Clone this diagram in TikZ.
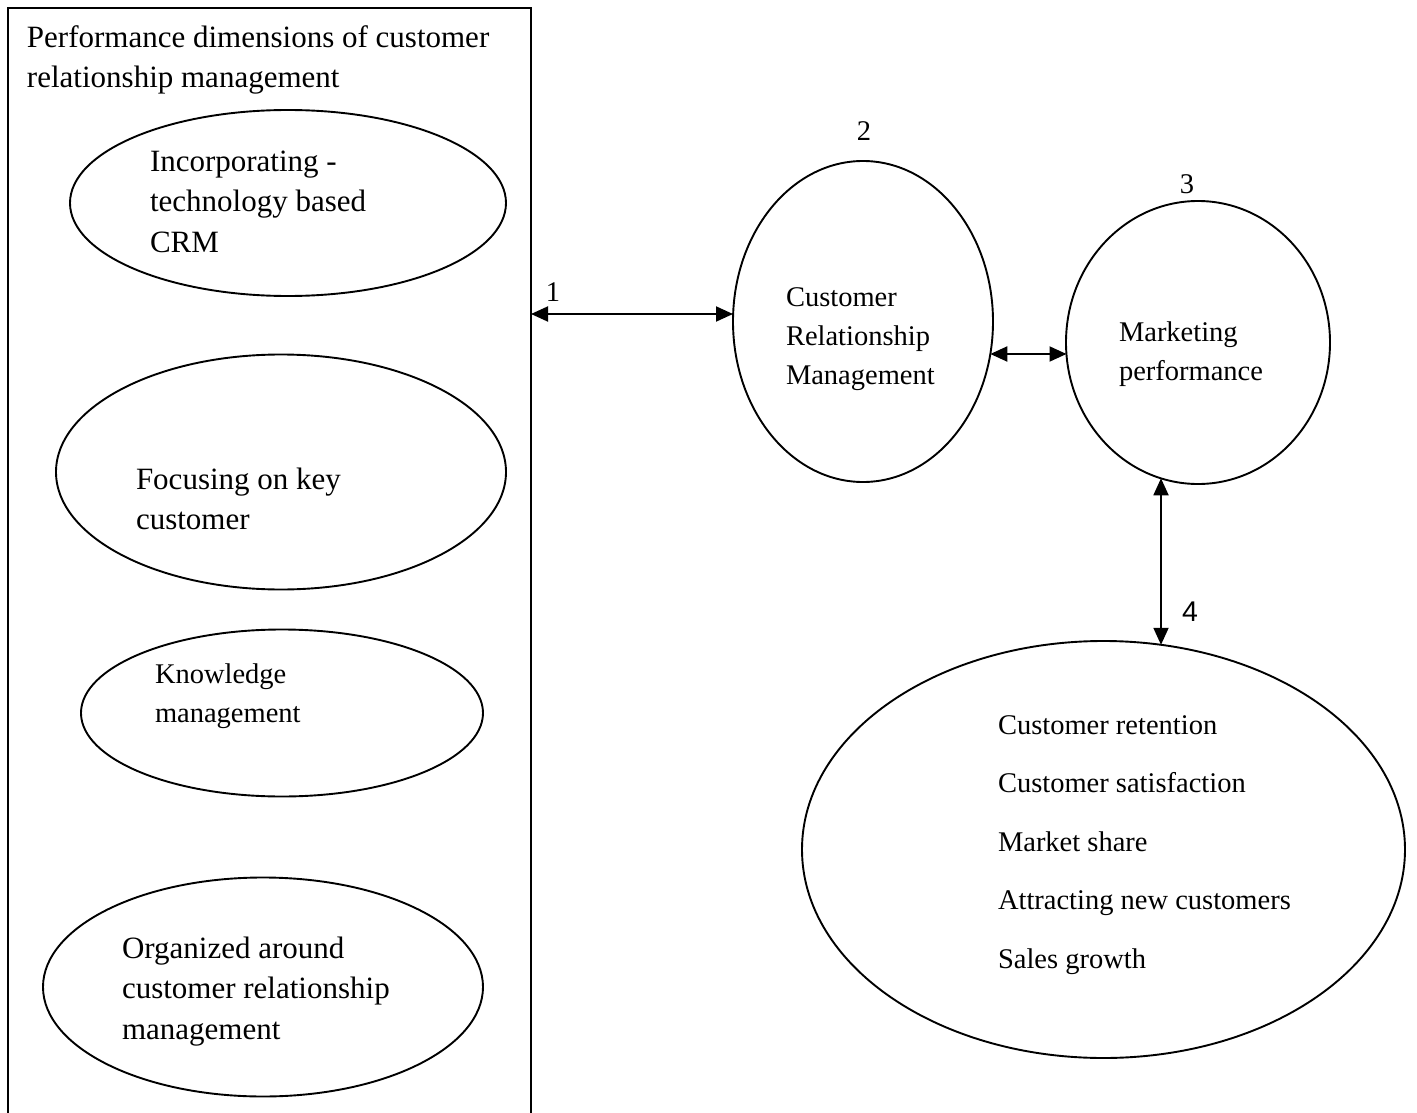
\documentclass[tikz,border=0pt]{standalone}
\usepackage{fontspec}
\setmainfont{Liberation Serif}
\newfontfamily\numsans{Liberation Sans}
\usetikzlibrary{shapes.geometric,arrows.meta,calc}
\newcommand\fbig{\fontsize{31}{40.5}\selectfont}
\newcommand\fsmall{\fontsize{28.5}{39}\selectfont}
\newcommand\flist{\fontsize{28.5}{58.6}\selectfont}
\tikzset{
  oval/.style={ellipse, draw, line width=1.9pt, inner sep=0pt, outer sep=0pt},
  lbl/.style={inner sep=0pt, outer sep=0pt, align=left, anchor=base west},
  link/.style={line width=1.9pt, {Triangle[length=17pt,width=15pt]}-{Triangle[length=17pt,width=15pt]}},
  frame/.style={line width=1.9pt}
}
\begin{document}
\begin{tikzpicture}[x=1pt,y=-1pt]
\useasboundingbox (0,0) rectangle (1417,1113);
% frame
\draw[frame] (8,1113) -- (8,8) -- (531,8) -- (531,1113);
\node[lbl, font=\fbig] (title) at (27,88) {Performance dimensions of customer\\relationship management};
% left ellipses
\node[oval, minimum width=436pt, minimum height=186pt] (e1) at (288,203) {};
\node[lbl, font=\fbig] (t1) at (150,252) {Incorporating -\\technology based\\CRM};
\node[oval, minimum width=450pt, minimum height=235pt] (e2) at (281,472) {};
\node[lbl, font=\fbig] (t2) at (136,529.5) {Focusing on key\\customer};
\node[oval, minimum width=402pt, minimum height=167pt] (e3) at (282,713) {};
\node[lbl, font=\fsmall] (t3) at (155,722) {Knowledge\\management};
\node[oval, minimum width=440pt, minimum height=219pt] (e4) at (263,987) {};
\node[lbl, font=\fbig] (t4) at (122,1039) {Organized around\\customer relationship\\management};
% right side
\node[oval, minimum width=260pt, minimum height=321pt] (crm) at (863,321.5) {};
\node[lbl, font=\fsmall] (tcrm) at (786,384) {Customer\\Relationship\\Management};
\node[oval, minimum width=264pt, minimum height=283pt] (mp) at (1198,342.5) {};
\node[lbl, font=\fsmall] (tmp) at (1119,380) {Marketing\\performance};
\node[oval, minimum width=603pt, minimum height=417pt] (out) at (1103.5,849.5) {};
\node[lbl, font=\flist] (tout) at (998,968.5) {Customer retention\\Customer satisfaction\\Market share\\Attracting new customers\\Sales growth};
% numbers
\node[font=\fsmall, inner sep=0pt] (n1) at (553,292) {1};
\node[font=\fsmall, inner sep=0pt] (n2) at (864,131) {2};
\node[font=\fsmall, inner sep=0pt] (n3) at (1187,184) {3};
\node[font=\fsmall\numsans, inner sep=0pt] (n4) at (1190,612) {4};
% connectors
\coordinate (r1) at (531,314);
\draw[link] (r1) -- (crm.west |- r1);
\draw[link] ($(crm.center)+(127.3,32.5)$) -- ($(mp.center)+(-131.5,11.5)$);
\draw[link] ($(mp.center)+(-37,135.8)$) -- ($(out.center)+(-37+94.5,-204.7)$);
\end{tikzpicture}
\end{document}
